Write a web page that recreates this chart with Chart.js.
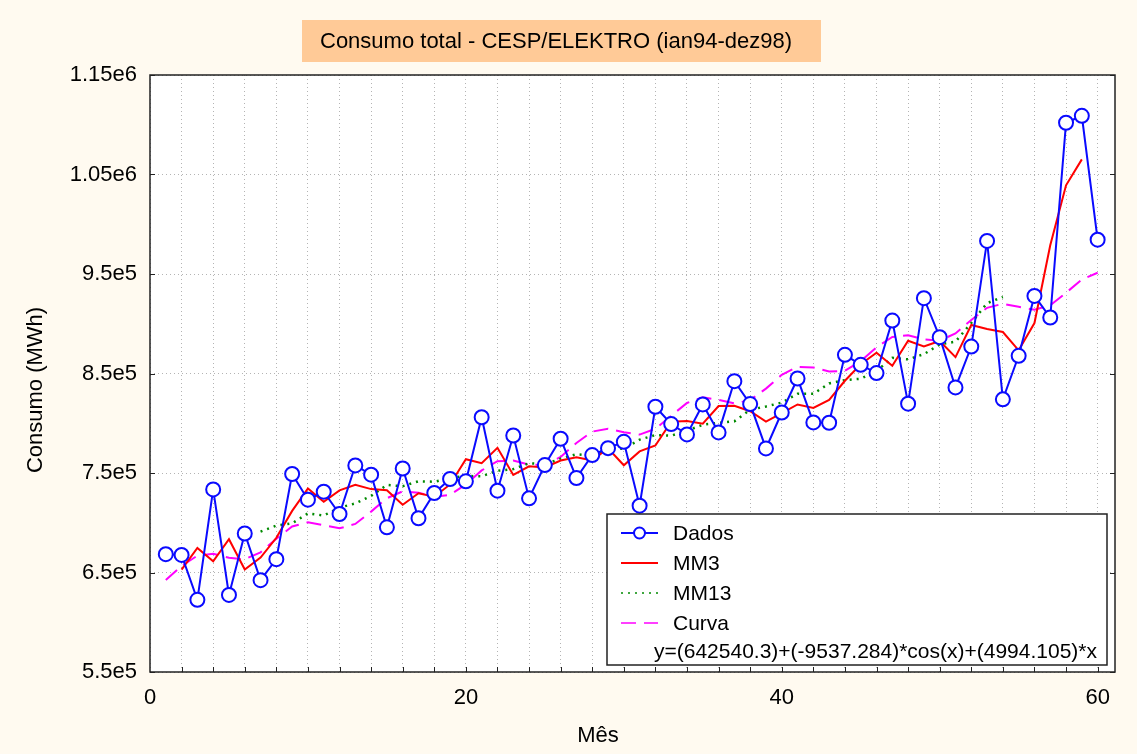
<!DOCTYPE html>
<html>
<head>
<meta charset="utf-8">
<title>Consumo total - CESP/ELEKTRO</title>
<script src="https://cdn.jsdelivr.net/npm/chart.js@4/dist/chart.umd.min.js"></script>
<style>
  html, body { margin: 0; padding: 0; background: #fffaf0; }
  #wrap { width: 1137px; height: 754px; }
</style>
</head>
<body>
<div id="wrap"><canvas id="consumo" width="1137" height="754"></canvas></div>
<script>
// meses 1..60 (jan/94 a dez/98)
var meses = [];
for (var m = 1; m <= 60; m++) meses.push(m);

// consumo mensal (MWh)
var dados = [668400, 667700, 622500, 733500, 627500, 689200, 642300, 663400, 749000, 723200,
             731200, 708800, 757600, 748300, 695400, 754500, 704500, 729900, 744000, 741600,
             806000, 732200, 787700, 724500, 758000, 784400, 745000, 768000, 775000, 781300,
             717200, 816600, 799200, 788800, 818900, 790800, 842300, 819300, 774700, 810800,
             845000, 800800, 800500, 868800, 858700, 850400, 903200, 819700, 925700, 886500,
             836000, 877100, 983200, 824000, 867800, 928000, 906300, 1102000, 1109000, 984500];

// media movel de 3 meses (mes 2 a 59)
var mm3 = [652900, 674600, 661200, 683400, 653000, 665000, 684900, 711900, 734500, 721100,
           732500, 738200, 733800, 732700, 718100, 729600, 726100, 738500, 763900, 759900,
           775300, 748100, 756700, 755600, 762500, 765800, 762700, 774800, 757800, 771700,
           777700, 801500, 802300, 799500, 817300, 817500, 812100, 801600, 810200, 818900,
           815400, 823400, 842700, 859300, 870800, 857800, 882900, 877300, 882700, 866500,
           898800, 894800, 891700, 873300, 900700, 978800, 1039100, 1065200];
var mm3Meses = meses.slice(1, 59);

// media movel de 13 meses (mes 7 a 54)
var mm13 = [691100, 697200, 699400, 709500, 707300, 715200, 719400, 727000, 738000, 736700,
            741700, 741200, 744900, 747000, 746700, 752300, 753900, 759800, 758800, 764400,
            768900, 767500, 774200, 774400, 783500, 788200, 787500, 792500, 798500, 800400,
            801900, 813600, 816800, 820800, 829600, 829600, 840000, 843400, 844700, 852600,
            865800, 864200, 869400, 879200, 882000, 900800, 920700, 926900];
var mm13Meses = meses.slice(6, 54);

// curva ajustada
var curva = [642400, 656500, 667000, 668800, 664800, 663300, 670300, 683900, 696200, 700500,
             697400, 694400, 698800, 711200, 724700, 731600, 730100, 726100, 728000, 738500,
             752600, 761900, 762500, 758400, 757900, 766200, 780200, 791600, 794500, 790900,
             788600, 794400, 807500, 820400, 826000, 823500, 820000, 823200, 834800, 848700,
             856700, 856100, 852000, 852700, 862300, 876400, 886700, 888400, 884400, 883000,
             890200, 903800, 916000, 920100, 917000, 914100, 918600, 931100, 944500, 951300];
var formula = 'y=(642540.3)+(-9537.284)*cos(x)+(4994.105)*x';

var yTicks = [550000, 650000, 750000, 850000, 950000, 1050000, 1150000];
var yTickLabels = ['5.5e5', '6.5e5', '7.5e5', '8.5e5', '9.5e5', '1.05e6', '1.15e6'];
var xTickLabels = [0, 20, 40, 60];

var FONTE = '"Liberation Sans", Arial, sans-serif';

function pontos(xs, ys) {
    return ys.map(function(v, i) { return { x: xs[i], y: v }; });
}

var moldura = {
    id: 'moldura',
    beforeDraw: function(chart) {
        var ctx = chart.ctx, a = chart.chartArea;
        ctx.save();
        ctx.fillStyle = '#fffaf0';
        ctx.fillRect(0, 0, chart.width, chart.height);
        ctx.fillStyle = '#ffffff';
        ctx.fillRect(a.left, a.top, a.right - a.left, a.bottom - a.top);
        ctx.restore();
    },
    afterDraw: function(chart) {
        var ctx = chart.ctx, a = chart.chartArea;
        var sx = chart.scales.x, sy = chart.scales.y;
        ctx.save();

        // borda do grafico
        ctx.strokeStyle = '#222';
        ctx.lineWidth = 1.5;
        ctx.strokeRect(a.left, a.top, a.right - a.left, a.bottom - a.top);

        // marcas internas
        ctx.lineWidth = 1;
        ctx.beginPath();
        for (var v = 2; v <= 60; v += 2) {
            var px = Math.round(sx.getPixelForValue(v)) + 0.5;
            ctx.moveTo(px, a.bottom);
            ctx.lineTo(px, a.bottom - 5);
        }
        yTicks.forEach(function(t) {
            var py = Math.round(sy.getPixelForValue(t)) + 0.5;
            ctx.moveTo(a.left, py);
            ctx.lineTo(a.left + 5, py);
            ctx.moveTo(a.right, py);
            ctx.lineTo(a.right - 5, py);
        });
        ctx.stroke();

        // titulo
        ctx.fillStyle = '#ffca97';
        ctx.fillRect(302, 20, 519, 42);
        ctx.fillStyle = '#000';
        ctx.font = '22px ' + FONTE;
        ctx.textBaseline = 'middle';
        ctx.textAlign = 'left';
        ctx.fillText('Consumo total - CESP/ELEKTRO (ian94-dez98)', 320, 42);

        // titulos dos eixos
        ctx.textAlign = 'center';
        ctx.fillText('Mês', 598, 736);
        ctx.save();
        ctx.translate(36, 390);
        ctx.rotate(-Math.PI / 2);
        ctx.fillText('Consumo (MWh)', 0, 0);
        ctx.restore();

        // legenda
        var lx = 607, ly = 514, lw = 500, lh = 151;
        ctx.fillStyle = '#ffffff';
        ctx.fillRect(lx, ly, lw, lh);
        ctx.strokeStyle = '#222';
        ctx.lineWidth = 1.5;
        ctx.strokeRect(lx, ly, lw, lh);

        var linhas = chart.data.datasets;
        var ys = [533, 563, 593, 623];
        linhas.forEach(function(ds, i) {
            var y = ys[i];
            ctx.save();
            ctx.strokeStyle = ds.borderColor;
            ctx.lineWidth = ds.legendWidth || 2;
            ctx.setLineDash(ds.borderDash || []);
            ctx.beginPath();
            ctx.moveTo(621, y);
            ctx.lineTo(658, y);
            ctx.stroke();
            ctx.setLineDash([]);
            if (ds.pointRadius) {
                ctx.fillStyle = '#ffffff';
                ctx.lineWidth = 2;
                ctx.beginPath();
                ctx.arc(639.5, y, 5.5, 0, Math.PI * 2);
                ctx.fill();
                ctx.stroke();
            }
            ctx.restore();
            ctx.fillStyle = '#000';
            ctx.textAlign = 'left';
            ctx.font = '21px ' + FONTE;
            ctx.fillText(ds.label, 673, y + 1);
        });
        ctx.fillText(formula, 654, 652);
        ctx.restore();
    }
};

var ctx = document.getElementById('consumo').getContext('2d');
var grafico = new Chart(ctx, {
    type: 'line',
    data: {
        datasets: [{
            label: 'Dados',
            data: pontos(meses, dados),
            borderColor: '#0a0aff',
            borderWidth: 2,
            pointRadius: 7,
            pointBorderWidth: 2,
            pointBackgroundColor: '#ffffff',
            pointBorderColor: '#0a0aff',
            order: 0
        }, {
            label: 'MM3',
            data: pontos(mm3Meses, mm3),
            borderColor: '#ff0000',
            borderWidth: 2,
            pointRadius: 0,
            order: 1
        }, {
            label: 'MM13',
            data: pontos(mm13Meses, mm13),
            borderColor: '#008a00',
            borderWidth: 2.5,
            borderDash: [2, 5],
            legendWidth: 1.5,
            pointRadius: 0,
            order: 2
        }, {
            label: 'Curva',
            data: pontos(meses, curva),
            borderColor: '#ff00ff',
            borderWidth: 2,
            borderDash: [15, 8],
            legendWidth: 1.5,
            pointRadius: 0,
            order: 3
        }]
    },
    options: {
        responsive: false,
        animation: false,
        devicePixelRatio: 1,
        layout: { padding: { top: 75, right: 22, left: 0, bottom: 0 } },
        elements: { line: { tension: 0 } },
        plugins: {
            legend: { display: false },
            title: { display: false },
            tooltip: { enabled: false }
        },
        scales: {
            x: {
                type: 'linear',
                min: 0,
                max: 61.1,
                afterBuildTicks: function(scale) {
                    var t = [];
                    for (var v = 0; v <= 60; v += 2) t.push({ value: v });
                    scale.ticks = t;
                },
                afterFit: function(scale) { scale.height = 82; },
                grid: { color: '#b4b4b4', lineWidth: 1, drawTicks: false },
                border: { display: false, dash: [1, 3] },
                ticks: {
                    autoSkip: false,
                    maxRotation: 0,
                    padding: 13,
                    color: '#000',
                    font: { family: FONTE, size: 22 },
                    callback: function(v) {
                        return xTickLabels.indexOf(v) >= 0 ? String(v) : '';
                    }
                }
            },
            y: {
                min: 550000,
                max: 1150000,
                afterBuildTicks: function(scale) {
                    scale.ticks = yTicks.map(function(v) { return { value: v }; });
                },
                afterFit: function(scale) { scale.width = 150; },
                grid: { color: '#b4b4b4', lineWidth: 1, drawTicks: false },
                border: { display: false, dash: [1, 3] },
                ticks: {
                    padding: 13,
                    color: '#000',
                    font: { family: FONTE, size: 22 },
                    callback: function(v) {
                        var i = yTicks.indexOf(v);
                        return i >= 0 ? yTickLabels[i] : '';
                    }
                }
            }
        }
    },
    plugins: [moldura]
});
</script>
</body>
</html>
